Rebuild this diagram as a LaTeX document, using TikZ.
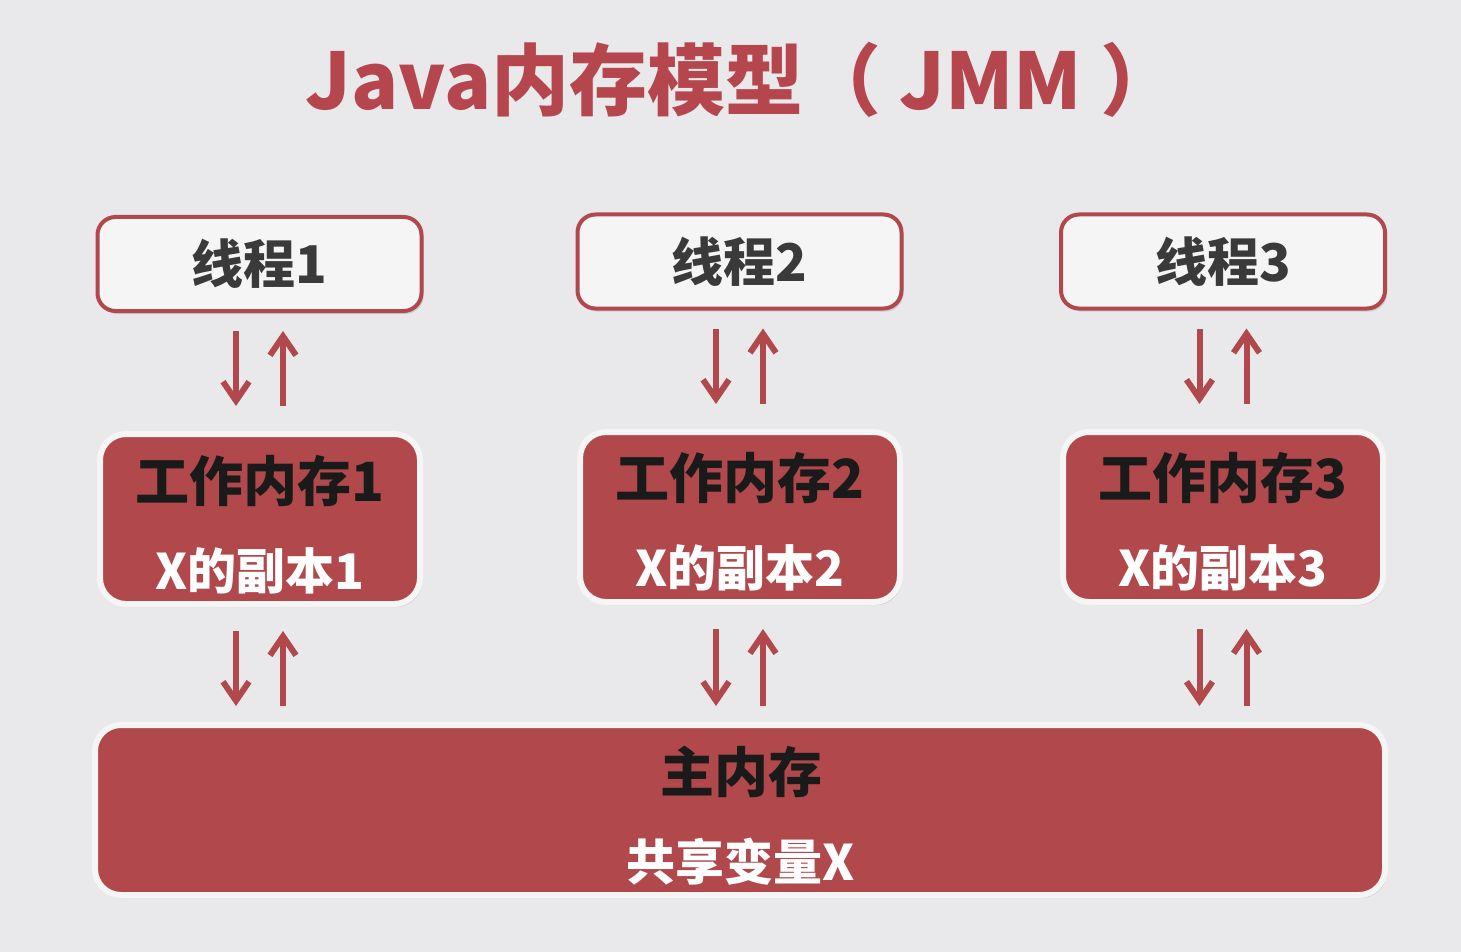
\documentclass[tikz,border=0pt]{standalone}
\usepackage{fontspec}
\setmainfont{Noto Sans CJK SC}
\usetikzlibrary{arrows.meta,shadows}
\definecolor{bg}{HTML}{E9E9EB}
\definecolor{jred}{HTML}{B0484C}
\definecolor{tred}{HTML}{B5464E}
\definecolor{tdark}{HTML}{3A3A3A}
\definecolor{tblack}{HTML}{1A1A1A}
\tikzset{
  threadbox/.style={draw=jred, line width=2pt, fill=white!96!black, rounded corners=9pt,
    minimum width=162pt, minimum height=47pt, inner sep=0pt,
    drop shadow={shadow xshift=1pt, shadow yshift=-1.5pt, opacity=0.25, fill=gray}},
  membox/.style={draw=white!96!black, line width=3pt, fill=jred, rounded corners=13pt,
    inner sep=0pt, drop shadow={shadow xshift=1pt, shadow yshift=-1.5pt, opacity=0.3, fill=gray}},
  workbox/.style={membox, minimum width=160pt, minimum height=85pt},
  mainbox/.style={membox, minimum width=645pt, minimum height=85pt},
  threadtxt/.style={font=\bfseries\fontsize{26pt}{28pt}\selectfont, text=tdark, inner sep=0pt},
  headtxt/.style={font=\bfseries\fontsize{27pt}{29pt}\selectfont, text=tblack, inner sep=0pt},
  subtxt/.style={font=\bfseries\fontsize{24.5pt}{26pt}\selectfont, text=white, inner sep=0pt},
  arr/.style={draw=jred, line width=3pt, -{Straight Barb[length=9.5pt,width=13pt,line width=3pt]}},
}
\begin{document}
\begin{tikzpicture}[x=0.5pt,y=-0.5pt]
\fill[bg] (0,0) rectangle (1461,952);
\useasboundingbox (0,0) rectangle (1461,952);

\node[font=\bfseries\fontsize{39pt}{43pt}\selectfont, text=tred, inner sep=0pt] (title) at (742,80) {Java内存模型（ JMM ）};

% threads
\node[threadbox] (t1) at (259.5,264) {};
\node[threadbox] (t2) at (739.5,261.5) {};
\node[threadbox] (t3) at (1223,261.5) {};
\node[threadtxt] (t1l) at (t1) {线程1};
\node[threadtxt] (t2l) at (t2) {线程2};
\node[threadtxt] (t3l) at (t3) {线程3};

% working memories
\node[workbox] (w1) at (260,519) {};
\node[workbox] (w2) at (740,517) {};
\node[workbox] (w3) at (1223,517) {};
\node[headtxt] (w1a) at (260,481) {工作内存1};
\node[headtxt] (w2a) at (740,478) {工作内存2};
\node[headtxt] (w3a) at (1223,478) {工作内存3};
\node[subtxt] (w1b) at (260,571) {X的副本1};
\node[subtxt] (w2b) at (740,568) {X的副本2};
\node[subtxt] (w3b) at (1223,568) {X的副本3};

% main memory
\node[mainbox] (m) at (740,810) {};
\node[headtxt] (ma) at (741,772) {主内存};
\node[subtxt] (mb) at (741,862) {共享变量X};

% arrows thread <-> working memory <-> main memory
\foreach \i in {1,2,3}{
  \draw[arr, shorten <=9pt, shorten >=12.5pt] ([xshift=-11.75pt]t\i.south) -- ([xshift=-11.75pt]t\i.south |- w\i.north);
  \draw[arr, shorten <=12.5pt, shorten >=9pt] ([xshift=11.75pt]t\i.south |- w\i.north) -- ([xshift=11.75pt]t\i.south);
  \draw[arr, shorten <=12pt, shorten >=8pt] ([xshift=-11.75pt]t\i.south |- w\i.south) -- ([xshift=-11.75pt]t\i.south |- m.north);
  \draw[arr, shorten <=8pt, shorten >=12pt] ([xshift=11.75pt]t\i.south |- m.north) -- ([xshift=11.75pt]t\i.south |- w\i.south);
}
\end{tikzpicture}
\end{document}
